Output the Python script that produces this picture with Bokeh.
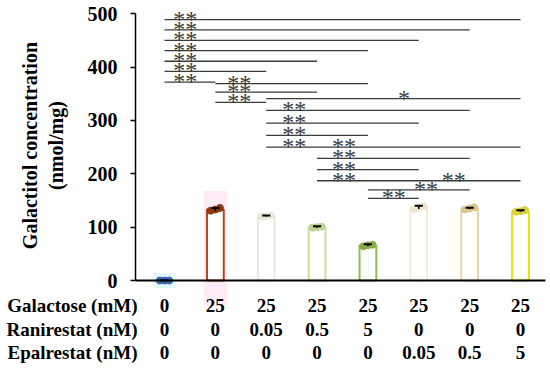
import math
from bokeh.plotting import figure
from bokeh.models import Range1d, ColumnDataSource, FixedTicker, LinearAxis
from bokeh.core.properties import value
from bokeh.embed import file_html
from bokeh.resources import INLINE

# ---- data ----
groups = [1, 2, 3, 4, 5, 6, 7, 8]
galactose = ["0", "25", "25", "25", "25", "25", "25", "25"]
ranirestat = ["0", "0", "0.05", "0.5", "5", "0", "0", "0"]
epalrestat = ["0", "0", "0", "0", "0", "0.05", "0.5", "5"]
means = [0, 133, 121, 100, 66, 137, 135, 130]
sds = [0.5, 3, 1, 1.5, 2, 3, 1.5, 1.5]
points = [[0, 0, 0], [131, 133, 136], [120, 121, 122], [99, 100, 101],
          [64, 66, 67], [134, 137, 139], [133, 135, 137], [129, 130, 132]]
row_names = ["Galactose (mM)", "Ranirestat (nM)", "Epalrestat (nM)"]
y_ticks = [0, 100, 200, 300, 400, 500]
y_title = ["Galactitol concentration", "(nmol/mg)"]
# significance: (from group, to group, bracket height, label, label position)
sig = [
    (1, 8, 489, "**", 1.41), (1, 7, 470, "**", 1.41), (1, 6, 450, "**", 1.41),
    (1, 5, 431, "**", 1.41), (1, 4, 411, "**", 1.41), (1, 3, 392, "**", 1.41),
    (1, 2, 372, "**", 1.41),
    (2, 5, 369, "**", 2.47), (2, 4, 353, "**", 2.47), (2, 3, 334, "**", 2.47),
    (3, 8, 341, "*", 5.71), (3, 7, 319, "**", 3.55), (3, 6, 295, "**", 3.55),
    (3, 5, 272, "**", 3.55), (3, 4, 250, "**", 3.55),
    (4, 8, 250, "**", 4.53), (4, 7, 229, "**", 4.53), (4, 6, 208, "**", 4.53),
    (4, 5, 187, "**", 4.53),
    (5, 8, 187, "**", 6.69), (5, 7, 170, "**", 6.14), (5, 6, 154, "**", 5.51),
]

# ---- styles ----
bar_line = ["#4472C4", "#B4461C", "#E8EADC", "#C9DCA4", "#93B953",
            "#F3EBDA", "#E9D6A2", "#E8DE10"]
dot_color = ["#3E66B8", "#8A3A0C", "#E4E8D4", "#BFD393", "#86AE45",
             "#EFE4CC", "#DCC589", "#D9D140"]
serif = value("Liberation Serif")
AX_X = 0.43        # where the y axis sits (data units)
X_MIN, X_MAX = -2.2247, 8.590
Y_MIN, Y_MAX = -168.7, 524.9

p = figure(width=550, height=370, output_backend="svg", toolbar_location=None,
           x_range=Range1d(X_MIN, X_MAX), y_range=Range1d(Y_MIN, Y_MAX),
           x_axis_location=None, y_axis_location=None,
           min_border=0, min_border_left=0, min_border_right=0,
           min_border_top=0, min_border_bottom=0)
p.outline_line_color = None
p.grid.visible = False

yax = LinearAxis(ticker=FixedTicker(ticks=y_ticks), bounds=(0, 500),
                 fixed_location=AX_X)
yax.axis_line_width = 1.5
yax.axis_line_color = "black"
yax.major_tick_out = 5
yax.major_tick_in = 0
yax.minor_tick_out = 0
yax.minor_tick_in = 0
yax.major_tick_line_width = 1.5
yax.major_label_standoff = 13
yax.major_label_text_font = "Liberation Serif"
yax.major_label_text_font_style = "bold"
yax.major_label_text_font_size = "20px"
yax.major_label_text_color = "black"
p.add_layout(yax, "left")

# faint background bands
p.quad(left=[0.78], right=[1.22], bottom=[-14], top=[14], fill_color="#D9F5F8",
       line_color=None, fill_alpha=0.8)
p.quad(left=[1.77], right=[2.23], bottom=[-48], top=[168], fill_color="#FDE6F6",
       line_color=None, fill_alpha=0.8)

# bars
src = ColumnDataSource(dict(x=groups, top=means, lc=bar_line,
                            lower=[m - s for m, s in zip(means, sds)],
                            upper=[m + s for m, s in zip(means, sds)]))
p.vbar(x="x", top="top", bottom=0, width=0.33, source=src, fill_color="white",
       line_color="lc", line_width=2)

# dots
offs = [-0.09, 0.0, 0.09]
dx, dy, dc = [], [], []
for g, pts, c in zip(groups, points, dot_color):
    for o, v in zip(offs, pts):
        dx.append(g + o)
        dy.append(v)
        dc.append(c)
p.scatter(x=dx, y=dy, size=7, fill_color=dc, line_color=dc)

# error bars
p.segment(x0="x", x1="x", y0="lower", y1="upper", source=src, line_color="black",
          line_width=1.5)
p.segment(x0=[g - 0.08 for g in groups], x1=[g + 0.08 for g in groups],
          y0=src.data["upper"], y1=src.data["upper"], line_color="black",
          line_width=2)

# baseline
p.segment(x0=[AX_X], x1=[8.49], y0=[0], y1=[0], line_color="black", line_width=2)

# significance brackets
p.segment(x0=[s[0] for s in sig], x1=[s[1] for s in sig],
          y0=[s[2] for s in sig], y1=[s[2] for s in sig],
          line_color="#3a3a3a", line_width=1.3)
p.text(x=[s[4] for s in sig], y=[s[2] for s in sig], text=[s[3] for s in sig],
       text_font=serif, text_font_size="24px", text_color="#3a3a3a",
       text_align="center", text_baseline="alphabetic", y_offset=-1)

# table below the axis
row_y = [-46.9, -91.9, -135.0]
tx, ty, tt = [], [], []
for vals, ry in zip([galactose, ranirestat, epalrestat], row_y):
    for g, v in zip(groups, vals):
        tx.append(g)
        ty.append(ry)
        tt.append(v)
p.text(x=tx, y=ty, text=tt, text_font=serif, text_font_style="bold",
       text_font_size="19px", text_color="black", text_align="center",
       text_baseline="middle")
p.text(x=[0.469] * 3, y=row_y, text=row_names, text_font=serif,
       text_font_style="bold", text_font_size="19px", text_color="black",
       text_align="right", text_baseline="middle")

# y-axis title (two lines)
p.text(x=[-1.635, -1.143], y=[253, 253], text=y_title, angle=math.pi / 2,
       text_font=serif, text_font_style="bold", text_font_size="20px",
       text_color="black", text_align="center", text_baseline="middle")

open("out.html", "w").write(file_html(p, INLINE))
